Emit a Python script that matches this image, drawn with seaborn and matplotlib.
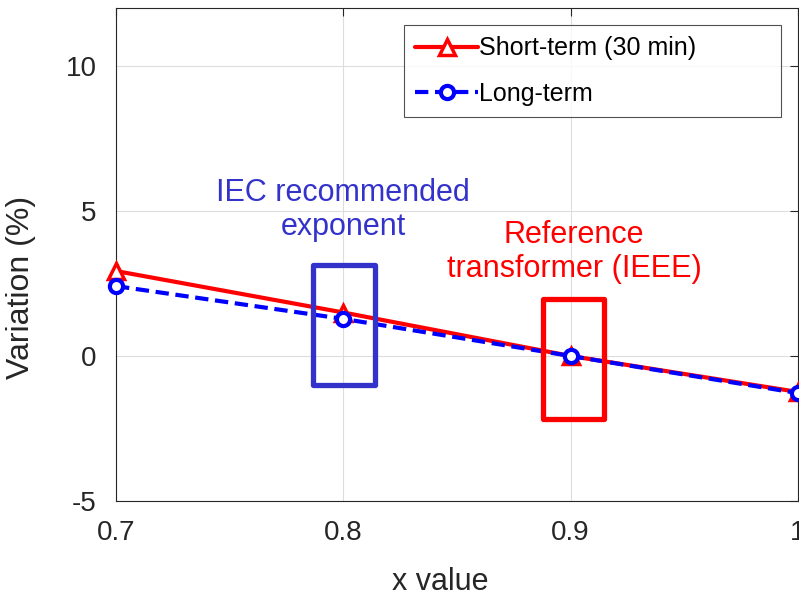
import matplotlib
matplotlib.use("Agg")
import matplotlib.pyplot as plt
from matplotlib.patches import Rectangle
import seaborn as sns
import pandas as pd

x_values = [0.7, 0.8, 0.9, 1.0]
short_term = [2.93, 1.5, 0.0, -1.24]
long_term = [2.41, 1.28, 0.0, -1.28]
series_names = ["Short-term (30 min)", "Long-term"]
x_ticks = [0.7, 0.8, 0.9, 1.0]
x_tick_labels = ["0.7", "0.8", "0.9", "1"]
y_ticks = [-5, 0, 5, 10]

sns.set_theme(style="white")
plt.rcParams["font.family"] = ["Liberation Sans", "DejaVu Sans"]
plt.rcParams["axes.unicode_minus"] = False

fig = plt.figure(figsize=(7.99, 5.96), dpi=100)
ax = fig.add_axes([116 / 799, 95 / 596, 682 / 799, 493 / 596])

df_short = pd.DataFrame({"x": x_values, "y": short_term})
df_long = pd.DataFrame({"x": x_values, "y": long_term})

sns.lineplot(data=df_short, x="x", y="y", ax=ax, color="#FF0000", lw=3,
             marker="^", markersize=11, markerfacecolor="white",
             markeredgecolor="#FF0000", markeredgewidth=2.5,
             label=series_names[0], clip_on=False, zorder=3)
sns.lineplot(data=df_long, x="x", y="y", ax=ax, color="#0000FF", lw=3,
             linestyle=(0, (3.2, 1.6)), marker="o", markersize=9.5,
             markerfacecolor="white", markeredgecolor="#0000FF",
             markeredgewidth=3, label=series_names[1], clip_on=False, zorder=4)

# highlight boxes
ax.add_patch(Rectangle((0.7865, -1.0), 0.0275, 4.14, fill=False,
                       edgecolor="#3333CC", lw=3.8, zorder=5, joinstyle="round"))
ax.add_patch(Rectangle((0.8878, -2.17), 0.0270, 4.14, fill=False,
                       edgecolor="#FF0000", lw=3.8, zorder=5, joinstyle="round"))

ax.text(0.8, 6.15, "IEC recommended\nexponent", color="#3333CC", fontsize=22,
        ha="center", va="top", linespacing=1.2)
ax.text(0.9015, 4.7, "Reference\ntransformer (IEEE)", color="#FF0000", fontsize=22,
        ha="center", va="top", linespacing=1.2)

ax.set_xlim(0.7, 1.0)
ax.set_ylim(-5, 12)
ax.set_xticks(x_ticks)
ax.set_xticklabels(x_tick_labels)
ax.set_yticks(y_ticks)
ax.grid(True, color="#DDDDDD", lw=0.8)
ax.tick_params(direction="in", length=6, width=0.8, labelsize=20,
               colors="#262626", top=True, right=True, pad=14)
ax.tick_params(axis="x", pad=14)
for sp in ax.spines.values():
    sp.set_color("#262626")
    sp.set_linewidth(0.8)
ax.set_xlabel("x value", fontsize=22, color="#262626")
ax.set_ylabel("Variation (%)", fontsize=23, color="#262626")
ax.xaxis.set_label_coords(0.475, -0.134)
ax.yaxis.set_label_coords(-0.117, 0.434)

leg = ax.legend(loc="upper left", bbox_to_anchor=(0.4223, 0.9655, 0.5527, 0.0),
                mode="expand", fontsize=18,
                frameon=True, fancybox=False, edgecolor="#262626",
                handlelength=2.5, handletextpad=0.05, borderpad=0.45,
                labelspacing=0.85, borderaxespad=0)
leg.get_frame().set_linewidth(0.8)
for t in leg.get_texts():
    t.set_color("black")

fig.savefig("out.png", dpi=100, facecolor="white")
